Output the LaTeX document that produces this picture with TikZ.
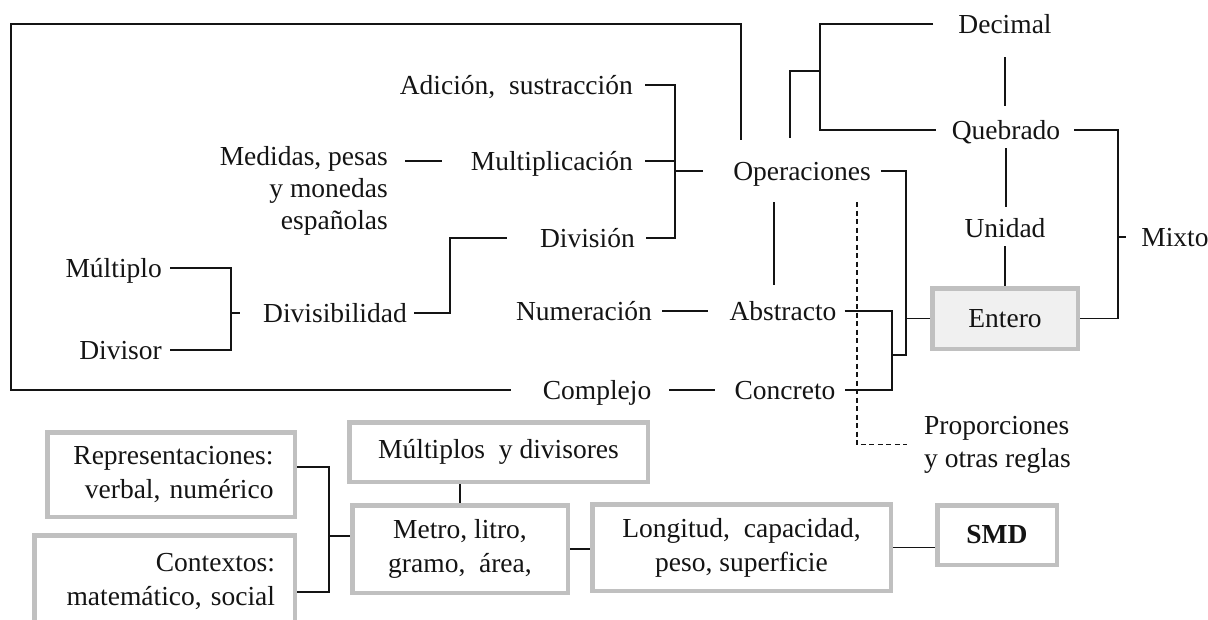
\documentclass[tikz,border=0pt]{standalone}
\usepackage{fontspec}
\setmainfont{Liberation Serif}
\usetikzlibrary{calc}
\definecolor{boxgray}{RGB}{192,192,192}
\definecolor{enterofill}{RGB}{240,240,240}
\definecolor{ink}{RGB}{20,20,20}
\begin{document}
\begin{tikzpicture}[x=1pt,y=-1pt,
  font=\fontsize{27.5}{34}\selectfont,
  lbl/.style={inner sep=0pt, text height=18pt, text depth=0pt, text=ink},
  multi/.style={inner sep=0pt, text=ink},
  conn/.style={draw=ink, line width=1.4pt},
  dashconn/.style={conn, dash pattern=on 5pt off 3.5pt},
  box/.style={draw=boxgray, line width=4.5pt, fill=white, inner sep=0pt, text=ink},
]
\useasboundingbox (0,0) rectangle (1208,619);
\clip (0,0) rectangle (1208,619);

% ---------- number types ----------
\node[lbl] (dec)  at (1005,24)  {Decimal};
\node[lbl] (queb) at (1006,130) {Quebrado};
\node[lbl] (uni)  at (1005,228) {Unidad};
\node[lbl] (mix)  at (1175,237) {Mixto};
\node[box, fill=enterofill, minimum width=145.5pt, minimum height=60.5pt] (ent) at (1005,318.5) {Entero};

% ---------- central column ----------
\node[lbl] (oper) at (802,171) {Operaciones};
\node[lbl] (abs)  at (783,311) {Abstracto};
\node[lbl] (num)  at (584,311) {Numeración};
\node[lbl] (conc) at (785,390) {Concreto};
\node[lbl] (comp) at (597,390) {Complejo};

% ---------- operations ----------
\node[lbl, anchor=east] (adic) at (633,85)  {Adición,\ \ sustracción};
\node[lbl, anchor=east] (mul)  at (633,161) {Multiplicación};
\node[lbl, anchor=east] (div)  at (635,238) {División};
\node[multi, align=right, anchor=north east, font=\fontsize{27.5}{32}\selectfont] (med) at (388,146)
  {Medidas, pesas\\y monedas\\españolas};
\node[lbl, anchor=east] (divb) at (407,313) {Divisibilidad};
\node[lbl, anchor=east] (mlt)  at (162,268) {Múltiplo};
\node[lbl, anchor=east] (dvs)  at (162,350) {Divisor};
\node[multi, align=left, anchor=north west, font=\fontsize{27.5}{33}\selectfont] (prop) at (924,416)
  {Proporciones\\y otras reglas};

% ---------- metric system boxes ----------
\node[box, minimum width=247.5pt, minimum height=84.5pt, align=right, text width=205pt] (rep) at (171,474.5)
  {Representaciones:\\verbal, numérico};
\node[box, minimum width=260.5pt, minimum height=92.5pt, align=right, text width=221pt] (ctx) at (164.5,581.5)
  {Contextos:\\matemático, social};
\node[box, minimum width=298.5pt, minimum height=59.5pt] (mdv) at (498.5,452) {Múltiplos\ \ y divisores};
\node[box, minimum width=215.5pt, minimum height=87.5pt, align=center] (met) at (460,549)
  {Metro, litro,\\gramo,\ \ área,};
\node[box, minimum width=298.5pt, minimum height=86.5pt, align=center] (lng) at (741.5,547.5)
  {Longitud,\ \ capacidad,\\peso, superficie};
\node[box, minimum width=119.5pt, minimum height=59.5pt] (smd) at (997,535) {\textbf{SMD}};

% ---------- helper coordinates ----------
\coordinate (fr) at (11,24);
\coordinate (xa) at (741,0);
\coordinate (xb) at (790,0);
\coordinate (bq) at (820,71);
\coordinate (xq) at (1118,0);
\coordinate (xd) at (892,0);
\coordinate (xe) at (906,0);
\coordinate (yj) at (0,355);
\coordinate (xdash) at (857,0);
\coordinate (xv) at (774,0);
\coordinate (xA) at (675,0);
\coordinate (xB) at (450,0);
\coordinate (xC) at (231,0);
\coordinate (xr) at (329,0);
\coordinate (yr1) at (0,467);
\coordinate (yr2) at (0,592);
\coordinate (yr3) at (0,536);

% ---------- connectors ----------
% large frame: Operaciones round to Complejo
\draw[conn, shorten <=22pt, shorten >=32pt] (oper.north -| xa) |- (fr) |- (comp.west);
% Operaciones to Decimal / Quebrado
\draw[conn, shorten <=24pt] (oper.north -| xb) |- (bq);
\draw[conn, shorten <=25pt, shorten >=16pt] (dec.west) -| (bq) |- (queb.west);
% vertical chain Decimal - Quebrado - Unidad - Entero
\draw[conn, shorten <=24pt, shorten >=15pt] (dec.south) -- (dec.south |- queb.north);
\draw[conn, shorten <=9pt, shorten >=12pt] (queb.south) -- (queb.south |- uni.north);
\draw[conn, shorten <=9pt] (uni.south) -- (uni.south |- ent.north);
% Quebrado + Entero -> Mixto
\draw[conn, shorten >=14pt] (ent.east) -| (xq |- queb.east) -- (queb.east);
\draw[conn, shorten >=15pt] (xq |- mix.west) -- (mix.west);
% Abstracto / Concreto / Operaciones -> Entero
\draw[conn, shorten <=8pt, shorten >=9pt] (abs.east) -| (xd |- conc.east) -- (conc.east);
\draw[conn, shorten <=10pt] (oper.east) -| (xe |- yj) -- (xd |- yj);
\draw[conn] (xe |- ent.west) -- (ent.west);
% Proporciones (dashed)
\draw[dashconn, shorten <=22pt, shorten >=17pt] (oper.south -| xdash) |- (prop.west);
% Operaciones - Abstracto
\draw[conn, shorten <=22pt, shorten >=17pt] (oper.south -| xv) -- (abs.north -| xv);
% the four operations
\draw[conn, shorten <=12pt, shorten >=11pt] (adic.east) -| (xA |- div.east) -- (div.east);
\draw[conn, shorten <=12pt] (mul.east) -- (mul.east -| xA);
\draw[conn, shorten >=30pt] (xA |- oper.west) -- (oper.west);
\draw[conn, shorten <=17pt, shorten >=29pt] (med.north east |- mul.west) -- (mul.west);
% divisibility
\draw[conn, shorten <=7pt, shorten >=33pt] (divb.east) -| (xB |- div.west) -- (div.west);
\draw[conn, shorten <=8pt, shorten >=8pt] (mlt.east) -| (xC |- dvs.east) -- (dvs.east);
\draw[conn, shorten >=23pt] (xC |- divb.west) -- (divb.west);
% numeration and concrete numbers
\draw[conn, shorten <=10pt, shorten >=21pt] (num.east) -- (abs.west);
\draw[conn, shorten <=18pt, shorten >=19pt] (comp.east) -- (conc.west);

% metric system
\draw[conn] (rep.east |- yr1) -| (xr |- yr2) -- (ctx.east |- yr2);
\draw[conn] (xr |- yr3) -- (met.west |- yr3);
\draw[conn] (met.north) -- (met.north |- mdv.south);
\draw[conn] (met.east) -- (lng.west |- met.east);
\draw[conn] (lng.east) -- (smd.west |- lng.east);
\end{tikzpicture}
\end{document}
